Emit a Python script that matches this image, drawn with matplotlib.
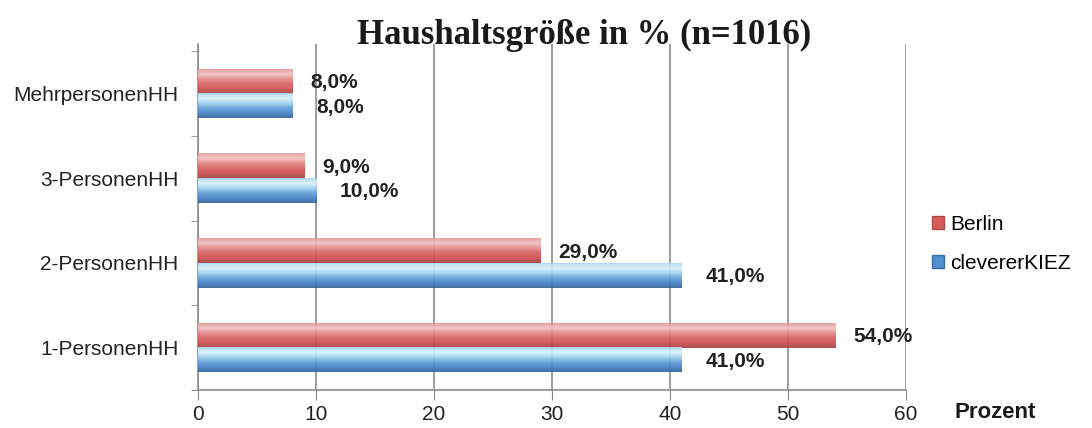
import numpy as np
import matplotlib
matplotlib.use('Agg')
import matplotlib.pyplot as plt
from matplotlib.patches import Patch
from matplotlib.colors import LinearSegmentedColormap

# data, bottom to top
categories = ['1-PersonenHH', '2-PersonenHH', '3-PersonenHH', 'MehrpersonenHH']
berlin = [54, 29, 9, 8]
clever = [41, 41, 10, 8]
xticks = [0, 10, 20, 30, 40, 50, 60]

plt.rcParams['font.family'] = ['Liberation Sans', 'DejaVu Sans']

# glossy gradients, bottom -> top
red_cmap = LinearSegmentedColormap.from_list(
    'red', ['#a44444', '#cd5050', '#d86262', '#e58888', '#f2c2c2', '#e49a9a'])
blue_cmap = LinearSegmentedColormap.from_list(
    'blue', ['#33649a', '#4784c6', '#62a0d8', '#9ed2ee', '#dcf2fa', '#acd6ea'])
red_main, blue_main = '#d65c5c', '#4f8fcf'

fig = plt.figure(figsize=(10.92, 4.28), dpi=100)
ax = fig.add_axes([0.1813, 0.0888, 0.6484, 0.8084])

y = np.arange(len(categories))
h = 0.29
grad = np.linspace(0, 1, 64).reshape(-1, 1)


def glossy_bars(ypos, vals, cmap):
    for yy, v in zip(ypos, vals):
        ax.imshow(grad, extent=[0, v, yy - h / 2, yy + h / 2], origin='lower',
                  aspect='auto', cmap=cmap, alpha=0.93, zorder=3,
                  interpolation='bilinear')


glossy_bars(y + h / 2, berlin, red_cmap)
glossy_bars(y - h / 2, clever, blue_cmap)

for yy, v in zip(y + h / 2, berlin):
    ax.annotate(f'{v:.1f}%'.replace('.', ','), (v, yy), xytext=(13, -1),
                textcoords='offset points', va='center', ha='left',
                fontsize=15, fontweight='bold', color='#222222', zorder=5)
for yy, v in zip(y - h / 2, clever):
    ax.annotate(f'{v:.1f}%'.replace('.', ','), (v, yy), xytext=(17, -1),
                textcoords='offset points', va='center', ha='left',
                fontsize=15, fontweight='bold', color='#222222', zorder=5)

ax.set_xlim(0, 60)
ax.set_ylim(-0.5, len(categories) - 0.415)
ax.set_xticks(xticks)
ax.set_xticklabels([str(t) for t in xticks], fontsize=15, color='#222222')
ax.set_yticks(y)
ax.set_yticklabels(categories, fontsize=15, color='#222222')
ax.set_yticks(np.arange(len(categories) + 1) - 0.5, minor=True)
ax.tick_params(axis='y', which='major', length=0, pad=14)
ax.tick_params(axis='y', which='minor', length=5, color='#888888')
ax.tick_params(axis='x', length=7, color='#888888', pad=4)

ax.grid(axis='x', color='#8c8c8c', linewidth=1.2, zorder=0)
ax.set_axisbelow(True)
for s in ['top', 'right']:
    ax.spines[s].set_visible(False)
for s in ['left', 'bottom']:
    ax.spines[s].set_color('#8c8c8c')
    ax.spines[s].set_linewidth(1.2)

fig.text(0.535, 0.918, 'Haushaltsgröße in % (n=1016)', ha='center', va='center',
         fontsize=25, fontweight='bold', family=['Liberation Serif', 'DejaVu Serif'],
         color='#1a1a1a')
fig.text(0.911, 0.037, 'Prozent', ha='center', va='center', fontsize=16,
         fontweight='bold', color='#1a1a1a')

handles = [Patch(facecolor=red_main, edgecolor='#b04a4a', label='Berlin'),
           Patch(facecolor=blue_main, edgecolor='#3a6ea8', label='clevererKIEZ')]
fig.legend(handles=handles, loc='center left', bbox_to_anchor=(0.836, 0.43),
           frameon=False, fontsize=15, handlelength=0.6, handleheight=0.6,
           handletextpad=0.3, labelspacing=0.95)

fig.savefig('out.png', dpi=100)
